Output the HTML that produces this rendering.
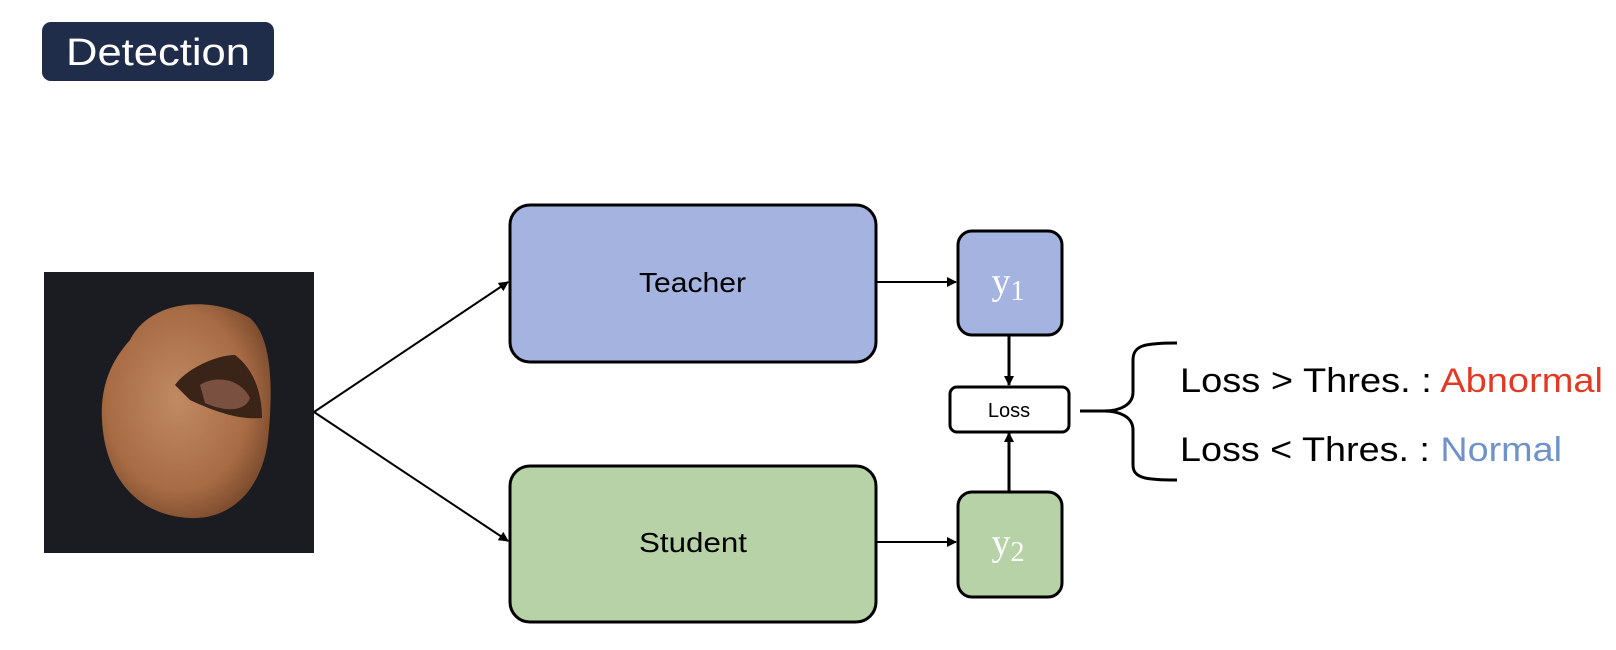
<!DOCTYPE html>
<html><head><meta charset="utf-8"><style>
html,body{margin:0;padding:0;background:#fff;width:1616px;height:650px;overflow:hidden}
</style></head><body>
<svg width="1616" height="650" viewBox="0 0 1616 650" xmlns="http://www.w3.org/2000/svg">
<defs>
<marker id="a" markerWidth="10" markerHeight="10" refX="9" refY="5" orient="auto" markerUnits="userSpaceOnUse"><path d="M0,0 L10,5 L0,10 z" fill="#000"/></marker>
<radialGradient id="nut" cx="45%" cy="45%" r="60%"><stop offset="0" stop-color="#c08a62"/><stop offset="0.7" stop-color="#a86c45"/><stop offset="1" stop-color="#7a4a2c"/></radialGradient>
</defs>
<rect x="42" y="22" width="232" height="59" rx="9" fill="#1f2d4a"/>
<text x="66" y="65" font-family="Liberation Sans, sans-serif" font-size="38" fill="#fff" textLength="184" lengthAdjust="spacingAndGlyphs">Detection</text>
<rect x="44" y="272" width="270" height="281" fill="#1b1c22"/>
<path d="M130,340 C150,300 210,295 250,318 C275,340 272,400 268,440 C262,490 230,520 190,518 C140,516 105,480 102,420 C100,385 112,360 130,340 Z" fill="url(#nut)"/>
<path d="M175,385 C185,370 215,355 235,355 C255,370 262,395 262,418 C240,420 215,412 190,400 Z" fill="#3a2418"/>
<path d="M200,385 C215,375 240,378 250,398 C245,412 225,412 205,403 Z" fill="#7a5040"/>
<line x1="314" y1="412" x2="508" y2="282" stroke="#000" stroke-width="2" marker-end="url(#a)"/>
<line x1="314" y1="412" x2="508" y2="541" stroke="#000" stroke-width="2" marker-end="url(#a)"/>
<rect x="510" y="205" width="366" height="157" rx="20" fill="#a4b3e0" stroke="#000" stroke-width="3"/>
<text x="639" y="292" font-family="Liberation Sans, sans-serif" font-size="28" textLength="107" lengthAdjust="spacingAndGlyphs">Teacher</text>
<rect x="510" y="466" width="366" height="156" rx="20" fill="#b7d2a6" stroke="#000" stroke-width="3"/>
<text x="639" y="552" font-family="Liberation Sans, sans-serif" font-size="28" textLength="108" lengthAdjust="spacingAndGlyphs">Student</text>
<line x1="876" y1="282" x2="956" y2="282" stroke="#000" stroke-width="2" marker-end="url(#a)"/>
<line x1="876" y1="542" x2="956" y2="542" stroke="#000" stroke-width="2" marker-end="url(#a)"/>
<rect x="958" y="231" width="104" height="104" rx="14" fill="#a4b3e0" stroke="#000" stroke-width="3"/>
<text x="1008" y="294" font-family="Liberation Serif, serif" font-size="38" fill="#fff" text-anchor="middle">y<tspan font-size="28" dy="6">1</tspan></text>
<rect x="958" y="492" width="104" height="105" rx="14" fill="#b7d2a6" stroke="#000" stroke-width="3"/>
<text x="1008" y="555" font-family="Liberation Serif, serif" font-size="38" fill="#fff" text-anchor="middle">y<tspan font-size="28" dy="6">2</tspan></text>
<line x1="1009" y1="335" x2="1009" y2="385" stroke="#000" stroke-width="3" marker-end="url(#a)"/>
<line x1="1009" y1="492" x2="1009" y2="433" stroke="#000" stroke-width="3" marker-end="url(#a)"/>
<rect x="950" y="387" width="119" height="45" rx="7" fill="#fff" stroke="#000" stroke-width="3"/>
<text x="1009" y="417" font-family="Liberation Sans, sans-serif" font-size="20" text-anchor="middle">Loss</text>
<line x1="1080" y1="411" x2="1104" y2="411" stroke="#000" stroke-width="3"/>
<path d="M1177,343 C1145,343 1133,345 1133,360 L1133,392 C1133,405 1120,411 1104,411 C1120,411 1133,417 1133,430 L1133,465 C1133,478 1145,480 1177,480" fill="none" stroke="#000" stroke-width="3"/>
<text x="1180" y="392" font-family="Liberation Sans, sans-serif" font-size="34" textLength="423" lengthAdjust="spacingAndGlyphs">Loss &gt; Thres. : <tspan fill="#e03a24">Abnormal</tspan></text>
<text x="1180" y="461" font-family="Liberation Sans, sans-serif" font-size="34" textLength="382" lengthAdjust="spacingAndGlyphs">Loss &lt; Thres. : <tspan fill="#6f92c8">Normal</tspan></text>
</svg>
</body></html>
